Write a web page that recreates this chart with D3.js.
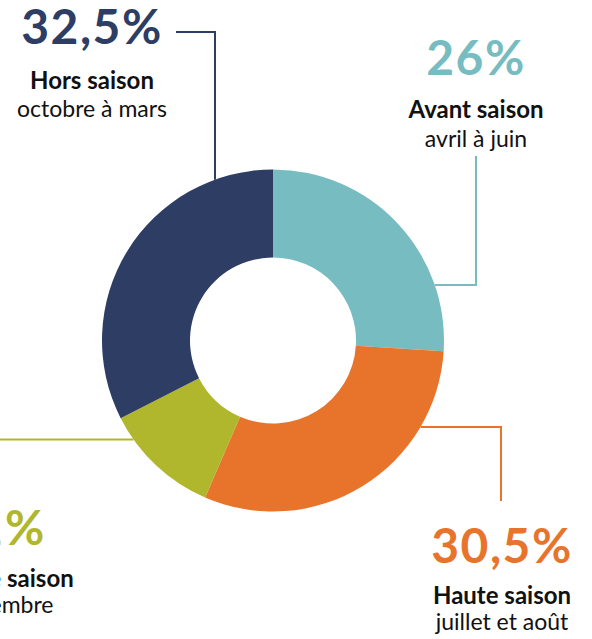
<!DOCTYPE html>
<html>
<head>
<meta charset="utf-8">
<script src="https://cdn.jsdelivr.net/npm/d3@7"></script>
<style>
  html, body { margin: 0; padding: 0; background: #fff; }
  svg { display: block; }
  .pct { font-family: Lato, "Noto Sans", sans-serif; font-weight: 700; letter-spacing: 1.5px; }
  .name { font-family: Lato, "Noto Sans", sans-serif; font-weight: 700; fill: #111; }
  .period { font-family: Lato, "Noto Sans", sans-serif; font-weight: 400; fill: #111; }
</style>
</head>
<body>
<div id="chart"></div>
<script>
// Chart data, clockwise from 12 o'clock
const seasons = ["Avant saison", "Haute saison", "Arrière saison", "Hors saison"];
const periods = ["avril à juin", "juillet et août", "septembre", "octobre à mars"];
const shares = [26, 30.5, 11, 32.5];
const shareLabels = ["26%", "30,5%", "11%", "32,5%"];
const colors = ["#76bcc1", "#e8742b", "#b0b72d", "#2d3d64"];

const width = 592, height = 639;
const cx = 273, cy = 340.5;
const outerR = 171, innerR = 83;

const svg = d3.select("#chart")
    .append("svg")
    .attr("width", width)
    .attr("height", height);

const pie = d3.pie().sort(null).value(d => d.value);
const arc = d3.arc().innerRadius(innerR).outerRadius(outerR);

const slices = pie(shares.map((v, i) => ({ value: v, i })));

const donut = svg.append("g").attr("transform", `translate(${cx},${cy})`);
donut.selectAll(".slice")
    .data(slices)
    .join("path")
    .attr("class", "slice")
    .attr("d", arc)
    .style("fill", d => colors[d.data.i]);

// Leader lines: start on the outer rim, go to an elbow, then to the label.
// "axis" tells which coordinate is fixed on the rim segment.
const leaders = [
    { axis: "y", rim: 285, elbow: [476, 285], end: [476, 156] },
    { axis: "y", rim: 427, elbow: [501, 427], end: [501, 501] },
    { axis: "y", rim: 439.5, elbow: [0, 439.5], end: [0, 439.5] },
    { axis: "x", rim: 215, elbow: [215, 32], end: [176, 32] }
];

function RimPoint(l, i) {
    const mid = (slices[i].startAngle + slices[i].endAngle) / 2;
    if (l.axis === "y") {
        const dx = Math.sqrt(outerR * outerR - (l.rim - cy) ** 2);
        return [Math.sin(mid) >= 0 ? cx + dx : cx - dx, l.rim];
    }
    const dy = Math.sqrt(outerR * outerR - (l.rim - cx) ** 2);
    return [l.rim, -Math.cos(mid) >= 0 ? cy + dy : cy - dy];
}

svg.selectAll(".leader")
    .data(leaders)
    .join("polyline")
    .attr("class", "leader")
    .attr("points", (d, i) => [RimPoint(d, i), d.elbow, d.end].map(p => p.join(",")).join(" "))
    .style("fill", "none")
    .style("stroke", (d, i) => colors[i])
    .style("stroke-width", 2);

// Label blocks (the left one runs off the page, as in the source)
const labelPos = [
    { x: 476, y: 75, pctDx: 0, nameDy: 43, periodDy: 72 },
    { x: 502, y: 563, pctDx: 0, nameDy: 41, periodDy: 67 },
    { x: 0, y: 545, pctDx: -4, nameDy: 42, periodDy: 68 },
    { x: 92, y: 44, pctDx: 0, nameDy: 45, periodDy: 73 }
];

const blocks = svg.selectAll(".label")
    .data(labelPos)
    .join("g")
    .attr("class", "label")
    .attr("transform", d => `translate(${d.x},${d.y})`);

blocks.append("text")
    .attr("class", "pct")
    .attr("text-anchor", "middle")
    .attr("x", d => d.pctDx)
    .style("font-size", "48px")
    .style("fill", (d, i) => colors[i])
    .text((d, i) => shareLabels[i]);

blocks.append("text")
    .attr("class", "name")
    .attr("text-anchor", "middle")
    .attr("y", d => d.nameDy)
    .style("font-size", "24px")
    .text((d, i) => seasons[i]);

blocks.append("text")
    .attr("class", "period")
    .attr("text-anchor", "middle")
    .attr("y", d => d.periodDy)
    .style("font-size", "23px")
    .text((d, i) => periods[i]);
</script>
</body>
</html>
